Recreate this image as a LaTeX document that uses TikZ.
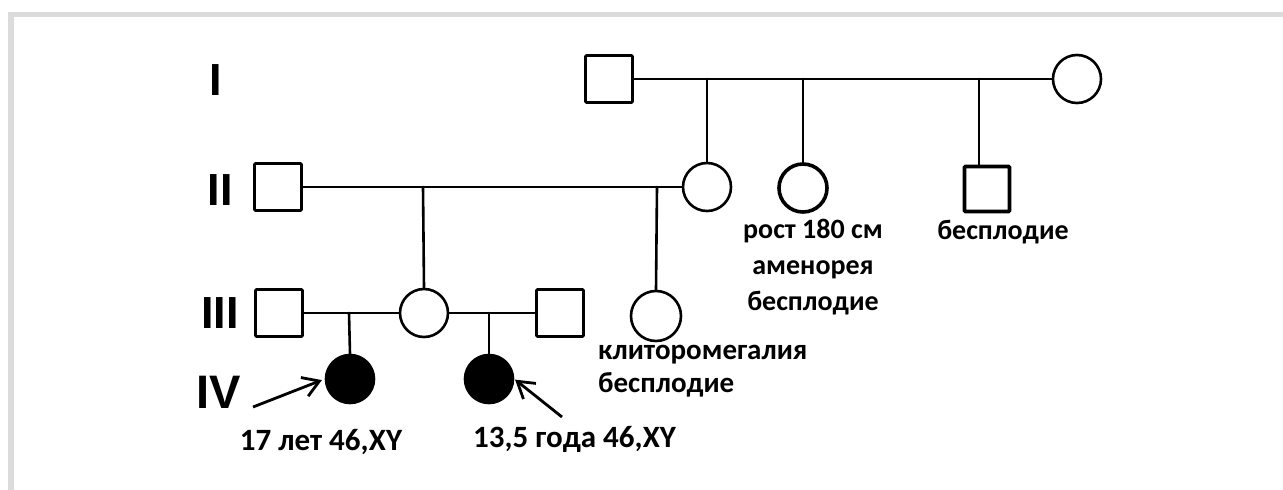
\documentclass[tikz,border=0pt]{standalone}
\usepackage{fontspec}
\setmainfont{Carlito}
\newfontfamily\genfont{Liberation Sans}
\usetikzlibrary{arrows.meta,calc}

\tikzset{
  x=1pt, y=-1pt,
  link/.style={line width=2.6pt, line cap=round},
  male/.style={draw, line width=2.6pt, rectangle, rounded corners=1pt, minimum size=47pt, inner sep=0pt, fill=white},
  female/.style={draw, line width=2.6pt, circle, minimum size=48pt, inner sep=0pt, fill=white},
  affected/.style={female, fill=black},
  heavy/.style={line width=3.6pt},
  gen/.style={font=\genfont\bfseries\fontsize{45}{45}\selectfont, anchor=base, inner sep=0pt},
  note/.style={font=\bfseries\fontsize{31}{36}\selectfont, inner sep=0pt},
  smallnote/.style={note, font=\bfseries\fontsize{28}{36}\selectfont},
  midnote/.style={note, font=\bfseries\fontsize{29}{33}\selectfont},
  proband/.style={line width=2.8pt, -{Straight Barb[length=16pt,width=20pt,line width=2.8pt]}},
  frame/.style={fill=black!14, draw=none}
}

\begin{document}
\begin{tikzpicture}
\useasboundingbox (0,0) rectangle (1283,490);

% light grey frame along the top and left edges
\fill[frame] (8,12) rectangle (1283,16.5);
\fill[frame] (8,12) rectangle (13.5,490);

% generation numbers
\node[gen] (g1) at (216,95) {I};
\node[gen] (g2) at (220,205) {II};
\node[gen] (g3) at (220,328) {III};
\node[gen, font=\genfont\bfseries\fontsize{47}{47}\selectfont] (g4) at (219,408) {IV};

% generation I
\node[male]   (f1) at (609,79)  {};
\node[female] (m1) at (1077,79) {};

% generation II
\node[male]   (f2) at (278,187) {};
\node[female] (m2) at (707,187) {};
\node[female, heavy] (s2) at (803,188) {};
\node[male, heavy, minimum size=45pt] (b2) at (987,189) {};

% generation III
\node[male]   (h3a) at (279,313) {};
\node[female] (w3)  at (424,313) {};
\node[male]   (h3b) at (560,313) {};
\node[female, minimum size=50pt] (c3) at (656,316) {};

% generation IV
\node[affected] (p4a) at (350,379) {};
\node[affected] (p4b) at (489,379) {};

% branch points on the marriage lines
\coordinate (d1a) at (707,79);
\coordinate (d1b) at (803,79);
\coordinate (d1c) at (979,79);
\coordinate (d2a) at (423,187);
\coordinate (d2b) at (657,187);
\coordinate (d3a) at (349,313);
\coordinate (d3b) at (489,313);

% marriages and descent lines
\draw[link] (f1.east) -- (m1.west);
\draw[link] (d1a) -- (m2.north);
\draw[link] (d1b) -- (s2.north);
\draw[link] (d1c) -- (d1c |- b2.north);

\draw[link] (f2.east) -- (m2.west);
\draw[link] (d2a) -- (w3.north);
\draw[link] (d2b) -- (c3.north);

\draw[link] (h3a.east) -- (w3.west);
\draw[link] (w3.east) -- (h3b.west);
\draw[link] (d3a) -- (p4a.north);
\draw[link] (d3b) -- (p4b.north);

% proband arrows
\coordinate (t4a) at (253,407);
\coordinate (t4b) at (562,417);
\draw[proband, shorten >=3pt] (t4a) -- (p4a.west);
\draw[proband, shorten >=1pt] (t4b) -- (p4b.east);

% clinical notes
\node[smallnote, align=center, anchor=north] (n2s) at (813,219) {рост 180 см\\аменорея\\бесплодие};
\node[smallnote, anchor=north] (n2b) at (1003,220) {бесплодие};
\node[midnote, align=left, anchor=north west] (n3c) at (598,345) {клиторомегалия\\бесплодие};
\node[note, anchor=base] (n4a) at (321,450) {17 лет 46,XY};
\node[note, anchor=base west] (n4b) at (473,447) {13,5 года 46,XY};
\end{tikzpicture}
\end{document}
